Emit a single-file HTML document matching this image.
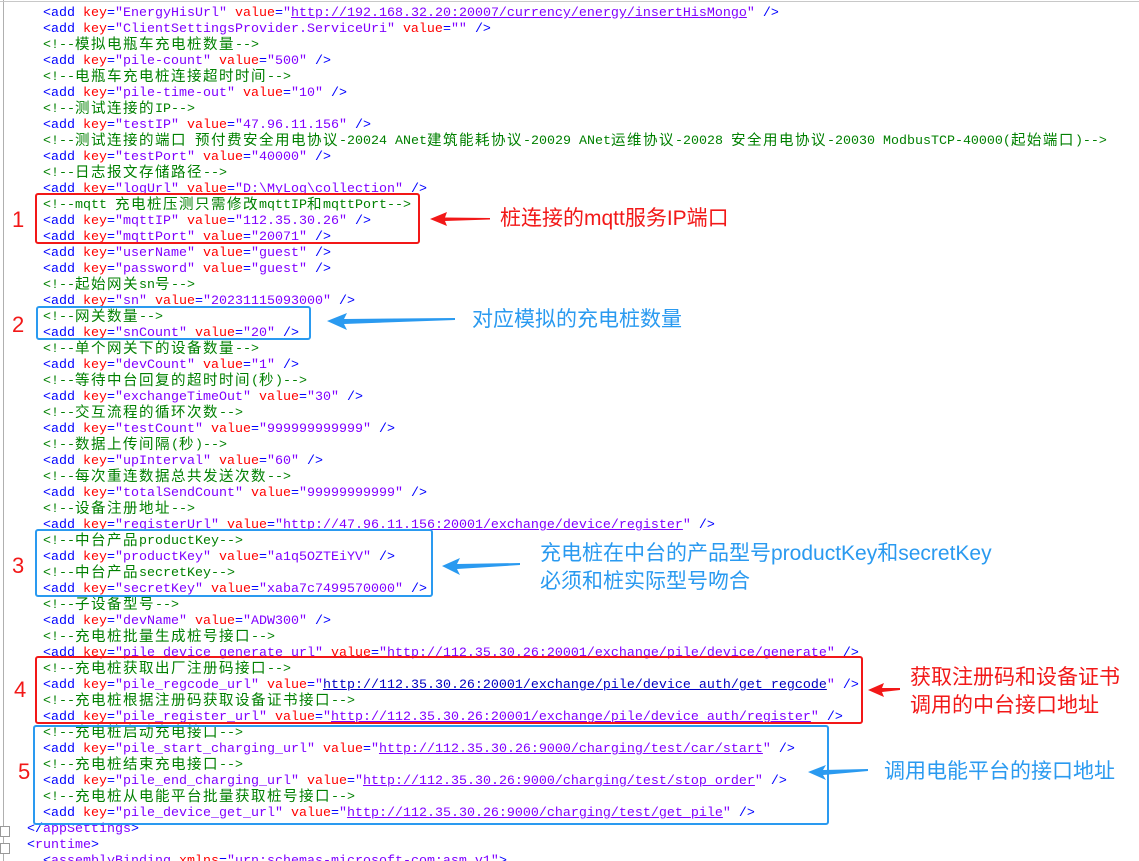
<!DOCTYPE html>
<html><head><meta charset="utf-8"><style>
html,body{margin:0;padding:0;background:#fff;width:1139px;height:861px;overflow:hidden;position:relative}
.code{position:absolute;left:43px;top:6px;font-family:"Liberation Mono",monospace;font-size:13.33px}
.code div{height:16px;line-height:16px;white-space:pre;overflow:visible}
t{color:#0000ff}k{color:#ff0000}v{color:#8000ff}g{color:#008000}
u{text-decoration:underline}
c{font-family:"Noto Sans CJK SC","WenQuanYi Zen Hei",sans-serif;font-size:14.5px;letter-spacing:1.5px;line-height:0;position:relative;top:1px}
.blu u{color:#0000c0}
.box{position:absolute;border:2px solid;border-radius:3px;box-sizing:border-box}
.red{border-color:#f21818}.bl{border-color:#2a9af0}
.num{position:absolute;font-family:"Liberation Sans",sans-serif;font-size:22px;line-height:24px}
.ann{position:absolute;font-family:"Liberation Sans","Noto Sans CJK SC",sans-serif;font-size:21px;line-height:28px;white-space:nowrap}
.gut{position:absolute;left:3px;top:0;width:1px;height:861px;background:#b0b0b0}
</style></head><body>
<div class="gut"></div>
<div style="position:absolute;left:0;top:1px;width:1139px;height:1px;background:#c8c8c8"></div>
<div style="position:absolute;left:0;top:826px;width:8px;height:9px;border:1px solid #999;background:#fff"></div>
<div style="position:absolute;left:0;top:843px;width:8px;height:9px;border:1px solid #999;background:#fff"></div>
<div class="code"><div><t>&lt;add </t><k>key</k><t>=</t><v>"EnergyHisUrl"</v> <k>value</k><t>=</t><v>"<u>http://192.168.32.20:20007/currency/energy/insertHisMongo</u>"</v> <t>/&gt;</t></div><div><t>&lt;add </t><k>key</k><t>=</t><v>"ClientSettingsProvider.ServiceUri"</v> <k>value</k><t>=</t><v>""</v> <t>/&gt;</t></div><div><g>&lt;!--<c>模拟电瓶车充电桩数量</c>--&gt;</g></div><div><t>&lt;add </t><k>key</k><t>=</t><v>"pile-count"</v> <k>value</k><t>=</t><v>"500"</v> <t>/&gt;</t></div><div><g>&lt;!--<c>电瓶车充电桩连接超时时间</c>--&gt;</g></div><div><t>&lt;add </t><k>key</k><t>=</t><v>"pile-time-out"</v> <k>value</k><t>=</t><v>"10"</v> <t>/&gt;</t></div><div><g>&lt;!--<c>测试连接的</c>IP--&gt;</g></div><div><t>&lt;add </t><k>key</k><t>=</t><v>"testIP"</v> <k>value</k><t>=</t><v>"47.96.11.156"</v> <t>/&gt;</t></div><div><g>&lt;!--<c>测试连接的端口</c> <c>预付费安全用电协议</c>-20024 ANet<c>建筑能耗协议</c>-20029 ANet<c>运维协议</c>-20028 <c>安全用电协议</c>-20030 ModbusTCP-40000(<c>起始端口</c>)--&gt;</g></div><div><t>&lt;add </t><k>key</k><t>=</t><v>"testPort"</v> <k>value</k><t>=</t><v>"40000"</v> <t>/&gt;</t></div><div><g>&lt;!--<c>日志报文存储路径</c>--&gt;</g></div><div><t>&lt;add </t><k>key</k><t>=</t><v>"logUrl"</v> <k>value</k><t>=</t><v>"D:\MyLog\collection"</v> <t>/&gt;</t></div><div><g>&lt;!--mqtt <c>充电桩压测只需修改</c>mqttIP<c>和</c>mqttPort--&gt;</g></div><div><t>&lt;add </t><k>key</k><t>=</t><v>"mqttIP"</v> <k>value</k><t>=</t><v>"112.35.30.26"</v> <t>/&gt;</t></div><div><t>&lt;add </t><k>key</k><t>=</t><v>"mqttPort"</v> <k>value</k><t>=</t><v>"20071"</v> <t>/&gt;</t></div><div><t>&lt;add </t><k>key</k><t>=</t><v>"userName"</v> <k>value</k><t>=</t><v>"guest"</v> <t>/&gt;</t></div><div><t>&lt;add </t><k>key</k><t>=</t><v>"password"</v> <k>value</k><t>=</t><v>"guest"</v> <t>/&gt;</t></div><div><g>&lt;!--<c>起始网关</c>sn<c>号</c>--&gt;</g></div><div><t>&lt;add </t><k>key</k><t>=</t><v>"sn"</v> <k>value</k><t>=</t><v>"20231115093000"</v> <t>/&gt;</t></div><div><g>&lt;!--<c>网关数量</c>--&gt;</g></div><div><t>&lt;add </t><k>key</k><t>=</t><v>"snCount"</v> <k>value</k><t>=</t><v>"20"</v> <t>/&gt;</t></div><div><g>&lt;!--<c>单个网关下的设备数量</c>--&gt;</g></div><div><t>&lt;add </t><k>key</k><t>=</t><v>"devCount"</v> <k>value</k><t>=</t><v>"1"</v> <t>/&gt;</t></div><div><g>&lt;!--<c>等待中台回复的超时时间</c>(<c>秒</c>)--&gt;</g></div><div><t>&lt;add </t><k>key</k><t>=</t><v>"exchangeTimeOut"</v> <k>value</k><t>=</t><v>"30"</v> <t>/&gt;</t></div><div><g>&lt;!--<c>交互流程的循环次数</c>--&gt;</g></div><div><t>&lt;add </t><k>key</k><t>=</t><v>"testCount"</v> <k>value</k><t>=</t><v>"999999999999"</v> <t>/&gt;</t></div><div><g>&lt;!--<c>数据上传间隔</c>(<c>秒</c>)--&gt;</g></div><div><t>&lt;add </t><k>key</k><t>=</t><v>"upInterval"</v> <k>value</k><t>=</t><v>"60"</v> <t>/&gt;</t></div><div><g>&lt;!--<c>每次重连数据总共发送次数</c>--&gt;</g></div><div><t>&lt;add </t><k>key</k><t>=</t><v>"totalSendCount"</v> <k>value</k><t>=</t><v>"99999999999"</v> <t>/&gt;</t></div><div><g>&lt;!--<c>设备注册地址</c>--&gt;</g></div><div><t>&lt;add </t><k>key</k><t>=</t><v>"registerUrl"</v> <k>value</k><t>=</t><v>"<u>http://47.96.11.156:20001/exchange/device/register</u>"</v> <t>/&gt;</t></div><div><g>&lt;!--<c>中台产品</c>productKey--&gt;</g></div><div><t>&lt;add </t><k>key</k><t>=</t><v>"productKey"</v> <k>value</k><t>=</t><v>"a1q5OZTEiYV"</v> <t>/&gt;</t></div><div><g>&lt;!--<c>中台产品</c>secretKey--&gt;</g></div><div><t>&lt;add </t><k>key</k><t>=</t><v>"secretKey"</v> <k>value</k><t>=</t><v>"xaba7c7499570000"</v> <t>/&gt;</t></div><div><g>&lt;!--<c>子设备型号</c>--&gt;</g></div><div><t>&lt;add </t><k>key</k><t>=</t><v>"devName"</v> <k>value</k><t>=</t><v>"ADW300"</v> <t>/&gt;</t></div><div><g>&lt;!--<c>充电桩批量生成桩号接口</c>--&gt;</g></div><div><t>&lt;add </t><k>key</k><t>=</t><v>"pile_device_generate_url"</v> <k>value</k><t>=</t><v>"<u>http://112.35.30.26:20001/exchange/pile/device/generate</u>"</v> <t>/&gt;</t></div><div><g>&lt;!--<c>充电桩获取出厂注册码接口</c>--&gt;</g></div><div><t>&lt;add </t><k>key</k><t>=</t><v>"pile_regcode_url"</v> <k>value</k><t>=</t><v class="blu">"<u>http://112.35.30.26:20001/exchange/pile/device_auth/get_regcode</u>"</v> <t>/&gt;</t></div><div><g>&lt;!--<c>充电桩根据注册码获取设备证书接口</c>--&gt;</g></div><div><t>&lt;add </t><k>key</k><t>=</t><v>"pile_register_url"</v> <k>value</k><t>=</t><v>"<u>http://112.35.30.26:20001/exchange/pile/device_auth/register</u>"</v> <t>/&gt;</t></div><div><g>&lt;!--<c>充电桩启动充电接口</c>--&gt;</g></div><div><t>&lt;add </t><k>key</k><t>=</t><v>"pile_start_charging_url"</v> <k>value</k><t>=</t><v>"<u>http://112.35.30.26:9000/charging/test/car/start</u>"</v> <t>/&gt;</t></div><div><g>&lt;!--<c>充电桩结束充电接口</c>--&gt;</g></div><div><t>&lt;add </t><k>key</k><t>=</t><v>"pile_end_charging_url"</v> <k>value</k><t>=</t><v>"<u>http://112.35.30.26:9000/charging/test/stop_order</u>"</v> <t>/&gt;</t></div><div><g>&lt;!--<c>充电桩从电能平台批量获取桩号接口</c>--&gt;</g></div><div><t>&lt;add </t><k>key</k><t>=</t><v>"pile_device_get_url"</v> <k>value</k><t>=</t><v>"<u>http://112.35.30.26:9000/charging/test/get_pile</u>"</v> <t>/&gt;</t></div><div style="margin-left:-16px"><t>&lt;/</t><v>appSettings</v><t>&gt;</t></div><div style="margin-left:-16px"><t>&lt;</t><v>runtime</v><t>&gt;</t></div><div><t>&lt;</t><v>assemblyBinding</v> <k>xmlns</k><t>=</t><v>"urn:schemas-microsoft-com:asm.v1"</v><t>&gt;</t></div></div>

<div class="box red" style="left:35px;top:193px;width:385px;height:51px"></div>
<div class="box bl" style="left:36px;top:306px;width:275px;height:34px"></div>
<div class="box bl" style="left:35px;top:529px;width:398px;height:68px"></div>
<div class="box red" style="left:35px;top:656px;width:828px;height:68px"></div>
<div class="box bl" style="left:33px;top:725px;width:796px;height:100px"></div>

<div class="num" style="left:12px;top:208px;color:#f21818">1</div>
<div class="num" style="left:12px;top:313px;color:#f21818">2</div>
<div class="num" style="left:12px;top:554px;color:#f21818">3</div>
<div class="num" style="left:14px;top:678px;color:#f21818">4</div>
<div class="num" style="left:18px;top:760px;color:#f21818">5</div>

<svg width="1139" height="861" style="position:absolute;left:0;top:0">
<polygon points="430,219 447,212 445,217.5 490,218 490,219.5 445,221 447,226" fill="#f21818"/>
<polygon points="327,321 347,313 344,319 455,318 455,320 344,324 347,330" fill="#2a9af0"/>
<polygon points="442,566 460,558 457,564 520,563 520,565 457,569 460,575" fill="#2a9af0"/>
<polygon points="868,690 884,683 882,688 900,688 900,690 882,692 884,697" fill="#f21818"/>
<polygon points="808,772 826,765 823,770 868,769 868,771 823,775 826,780" fill="#2a9af0"/>
</svg>

<div class="ann" style="left:500px;top:205px;color:#f21818">桩连接的mqtt服务IP端口</div>
<div class="ann" style="left:472px;top:306px;color:#2a9af0">对应模拟的充电桩数量</div>
<div class="ann" style="left:540px;top:540px;color:#2a9af0">充电桩在中台的产品型号productKey和secretKey<br>必须和桩实际型号吻合</div>
<div class="ann" style="left:910px;top:664px;color:#f21818">获取注册码和设备证书<br>调用的中台接口地址</div>
<div class="ann" style="left:884px;top:758px;color:#2a9af0">调用电能平台的接口地址</div>
</body></html>
